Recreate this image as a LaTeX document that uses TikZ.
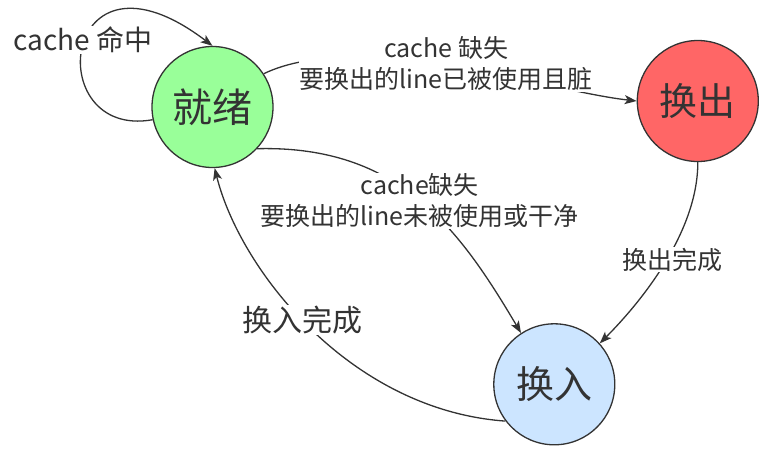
\documentclass[tikz,border=0pt]{standalone}
\usepackage{fontspec}
\newfontfamily\cjkfont{Noto Sans CJK SC}
\usepackage{tikz}
\usetikzlibrary{positioning,arrows.meta}
\definecolor{verde}{HTML}{99FF99}
\definecolor{rojo}{HTML}{FF6666}
\definecolor{azul}{HTML}{CCE5FF}
\definecolor{gris}{HTML}{333333}
\tikzset{
  estado/.style   = {circle, draw=gris, line width=1.3pt, minimum size=121pt,
                     inner sep=0pt, text=gris, font=\cjkfont\fontsize{38}{40}\selectfont},
  etiqueta/.style = {fill=white, align=center, inner sep=1pt, text=gris,
                     font=\cjkfont\fontsize{25}{31}\selectfont},
  grande/.style   = {font=\cjkfont\fontsize{30}{36}\selectfont},
  flecha/.style   = {draw=gris, line width=1.3pt, -{Stealth[length=12pt,width=9pt,inset=3pt]}}
}

\begin{document}
\begin{tikzpicture}[x=1pt, y=-1pt]
    \useasboundingbox (0,0) rectangle (770,453);
    \node[estado, fill=verde, font=\cjkfont\fontsize{40}{42}\selectfont] (jiuxu) at (212.5,107) {就绪};
    \node[estado, fill=rojo, right=363pt of jiuxu, yshift=6pt] (huanchu) {换出};
    \node[estado, fill=azul, below=161pt of huanchu, xshift=-143.5pt] (huanru) {换入};

    \draw[flecha] (jiuxu.192) .. controls (40,140) and (60,-70) .. node[etiqueta, pos=0.55, font=\cjkfont\fontsize{28}{32}\selectfont, xshift=-4pt, yshift=-3pt]{cache 命中} (jiuxu.north);
    \draw[flecha] (jiuxu.33) .. controls (359,28) and (547,91) .. node[etiqueta, xshift=-6pt, yshift=3pt]{cache 缺失\\要换出的line已被使用且脏} (huanchu.west);
    \draw[flecha] (jiuxu.-43) .. controls (400,145) and (460,230) .. node[etiqueta]{cache缺失\\要换出的line未被使用或干净} (huanru.123);
    \draw[flecha] (huanchu.south) .. controls (698,230) and (644,299) .. node[etiqueta, xshift=7pt, yshift=2pt]{换出完成} (huanru.42);
    \draw[flecha] (huanru.217) .. controls (350,410) and (240,270) .. node[etiqueta, grande, pos=0.53]{换入完成} (jiuxu.-88);
\end{tikzpicture}
\end{document}
